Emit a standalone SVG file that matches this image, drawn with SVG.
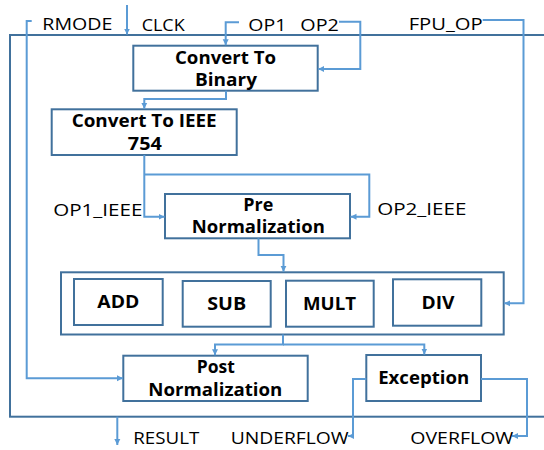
<svg xmlns="http://www.w3.org/2000/svg" width="544" height="450" viewBox="0 0 544 450">
<defs>
<marker id="ah" markerUnits="userSpaceOnUse" markerWidth="7" markerHeight="7" refX="6" refY="3.5" orient="auto">
<path d="M0,0.5 L6,3.5 L0,6.5 z" fill="#5B9BD5"/>
</marker>
<style>
.box{fill:#fff;stroke:#41719C;stroke-width:2}
.frame{fill:none;stroke:#41719C;stroke-width:2}
.c{fill:none;stroke:#5B9BD5;stroke-width:2;marker-end:url(#ah)}
.b{font-family:"Open Sans","Liberation Sans",sans-serif;font-weight:bold;font-size:17px;fill:#000;text-anchor:middle}
.t{font-family:"Open Sans","Liberation Sans",sans-serif;font-size:17px;fill:#000}
</style>
</defs>
<rect width="544" height="450" fill="#fff"/>
<rect id="frame" class="frame" x="10" y="35" width="560" height="381.7"/>

<g id="n-binary">
<rect class="box" x="133.3" y="45.7" width="184.4" height="45"/>
<text class="b" x="225.5" y="64" textLength="101" lengthAdjust="spacingAndGlyphs">Convert To</text>
<text class="b" x="226" y="85.7" textLength="62" lengthAdjust="spacingAndGlyphs">Binary</text>
</g>
<g id="n-ieee">
<rect class="box" x="51.7" y="109.3" width="185" height="45.7"/>
<text class="b" x="144.2" y="126.7" textLength="145" lengthAdjust="spacingAndGlyphs">Convert To IEEE</text>
<text class="b" x="144.8" y="150" textLength="34" lengthAdjust="spacingAndGlyphs">754</text>
</g>
<g id="n-pre">
<rect class="box" x="165" y="194" width="185" height="44.3"/>
<text class="b" x="258.3" y="210.7" textLength="30" lengthAdjust="spacingAndGlyphs">Pre</text>
<text class="b" x="258.3" y="233.3" textLength="133" lengthAdjust="spacingAndGlyphs">Normalization</text>
</g>
<g id="n-ops">
<rect class="box" x="61" y="272.3" width="442.7" height="62.2"/>
</g>
<g id="n-add">
<rect class="box" x="74" y="279" width="88.7" height="46"/>
<text class="b" x="118.3" y="308.3" textLength="42" lengthAdjust="spacingAndGlyphs">ADD</text>
</g>
<g id="n-sub">
<rect class="box" x="182.7" y="281" width="88" height="45.7"/>
<text class="b" x="226.7" y="310" textLength="39" lengthAdjust="spacingAndGlyphs">SUB</text>
</g>
<g id="n-mult">
<rect class="box" x="286" y="280.7" width="87.7" height="46"/>
<text class="b" x="329.5" y="310" textLength="53" lengthAdjust="spacingAndGlyphs">MULT</text>
</g>
<g id="n-div">
<rect class="box" x="393" y="279.3" width="88.3" height="46.4"/>
<text class="b" x="438" y="309" textLength="33" lengthAdjust="spacingAndGlyphs">DIV</text>
</g>
<g id="n-post">
<rect class="box" x="123.3" y="355.7" width="184.4" height="45.3"/>
<text class="b" x="215.8" y="373.3" textLength="38" lengthAdjust="spacingAndGlyphs">Post</text>
<text class="b" x="215.3" y="395.7" textLength="134" lengthAdjust="spacingAndGlyphs">Normalization</text>
</g>
<g id="n-exception">
<rect class="box" x="366.3" y="355" width="114.7" height="46"/>
<text class="b" x="423.7" y="384.3" textLength="91" lengthAdjust="spacingAndGlyphs">Exception</text>
</g>

<g id="connectors">
<path class="c" d="M31.7,21 H26.7 V378.3 H123"/>
<path class="c" d="M127,5 V34.5"/>
<path class="c" d="M239,22.3 H225.7 V45.2"/>
<path class="c" d="M339,21.7 H360.3 V69 H318.2"/>
<path class="c" d="M482.7,20 H523.5 V303.3 H504.2"/>
<path class="c" d="M226,90.7 V99 H144.3 V108.8"/>
<path class="c" d="M144.3,155 V216.7 H164.5"/>
<path class="c" d="M144.3,174.5 H369.3 V216.7 H350.5"/>
<path class="c" d="M258.5,238.3 V255 H283.5 V271.8"/>
<path class="c" d="M283,334.5 V344.5 H215 V355.2"/>
<path class="c" d="M283,344.5 H424.3 V354.5"/>
<path class="c" d="M366.3,379 H353 V436 H348"/>
<path class="c" d="M481,379 H527 V436 H512"/>
<path class="c" d="M117.3,416.7 V445"/>
</g>

<g id="labels">
<text class="t" x="42.3" y="30" textLength="70" lengthAdjust="spacingAndGlyphs">RMODE</text>
<text class="t" x="141.7" y="30.5" textLength="43" lengthAdjust="spacingAndGlyphs">CLCK</text>
<text class="t" x="248.3" y="30.5" textLength="38" lengthAdjust="spacingAndGlyphs">OP1</text>
<text class="t" x="300.3" y="30.5" textLength="38.5" lengthAdjust="spacingAndGlyphs">OP2</text>
<text class="t" x="408.7" y="29.5" textLength="74" lengthAdjust="spacingAndGlyphs">FPU_OP</text>
<text class="t" x="53.3" y="215.7" textLength="89" lengthAdjust="spacingAndGlyphs">OP1_IEEE</text>
<text class="t" x="377.3" y="215.3" textLength="89" lengthAdjust="spacingAndGlyphs">OP2_IEEE</text>
<text class="t" x="133.3" y="444.3" textLength="66" lengthAdjust="spacingAndGlyphs">RESULT</text>
<text class="t" x="230.7" y="444.3" textLength="118" lengthAdjust="spacingAndGlyphs">UNDERFLOW</text>
<text class="t" x="410.3" y="443.5" textLength="103" lengthAdjust="spacingAndGlyphs">OVERFLOW</text>
</g>
</svg>
